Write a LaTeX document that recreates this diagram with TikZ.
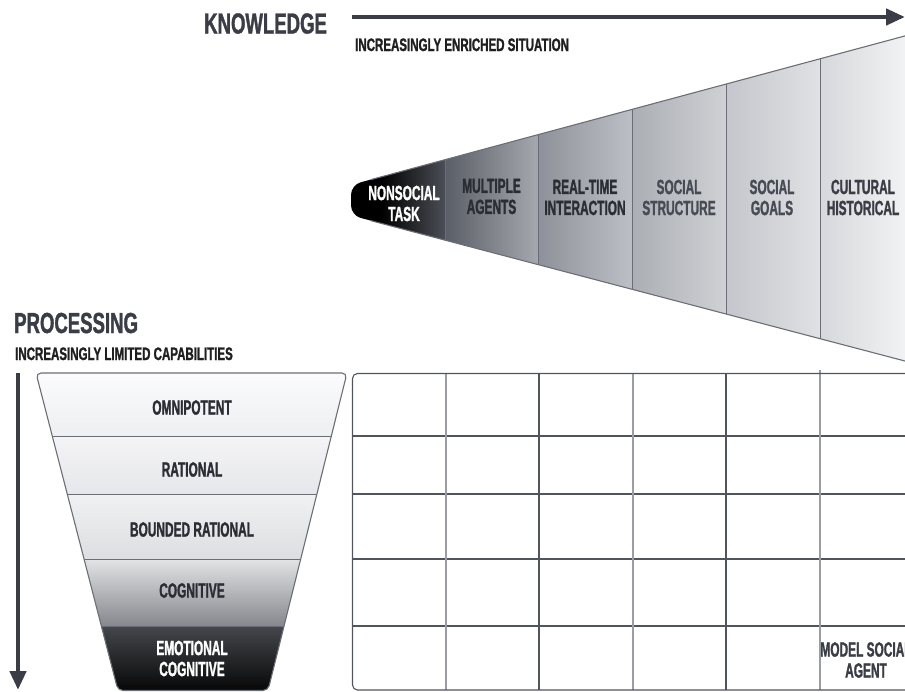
\documentclass[tikz,border=0pt]{standalone}
\usepackage{fontspec}
\newfontfamily\bebas{Liberation Sans}[FakeStretch=0.58, FakeBold=1.3]
\newfontfamily\bebast{Liberation Sans}[FakeStretch=0.64, FakeBold=1.3]
\usetikzlibrary{arrows.meta,calc}
\definecolor{ink}{HTML}{3A3D46}
\definecolor{edgec}{HTML}{6B6E76}
\definecolor{txt}{HTML}{2A2D34}
\definecolor{txtl}{HTML}{474B54}
\definecolor{gridd}{HTML}{50545C}
\definecolor{gridl}{HTML}{9A9DA3}
\definecolor{ca}{HTML}{4B4E56}
\definecolor{cb1}{HTML}{5A5E66}\definecolor{cb2}{HTML}{A5A8AE}
\definecolor{cc1}{HTML}{8E9199}\definecolor{cc2}{HTML}{BCBFC4}
\definecolor{cd1}{HTML}{ABAEB4}\definecolor{cd2}{HTML}{CFD1D4}
\definecolor{ce1}{HTML}{C4C6CB}\definecolor{ce2}{HTML}{E0E1E4}
\definecolor{cf1}{HTML}{D6D8DB}\definecolor{cf2}{HTML}{FAFAFB}
\definecolor{fa1}{HTML}{FBFBFC}\definecolor{fa2}{HTML}{EEEFF1}
\definecolor{fb1}{HTML}{F4F4F6}\definecolor{fb2}{HTML}{E6E7EA}
\definecolor{fc1}{HTML}{F0F1F2}\definecolor{fc2}{HTML}{DCDEE1}
\definecolor{fd1}{HTML}{E2E3E5}\definecolor{fd2}{HTML}{85878C}
\definecolor{fe1}{HTML}{45474C}\definecolor{fe2}{HTML}{060606}
\begin{document}
\begin{tikzpicture}[x=1pt,y=-1pt,
  lbl/.style={font=\bebas\bfseries\fontsize{20.5}{21}\selectfont, align=center, inner sep=0pt, text=txt},
  bigtitle/.style={font=\bebast\bfseries\fontsize{29}{31}\selectfont, inner sep=0pt, text=ink, anchor=base west},
  subtitle/.style={font=\bebast\bfseries\fontsize{18}{19}\selectfont, inner sep=0pt, text=black!88, anchor=base west},
  axisarrow/.style={draw=ink, line width=4.5pt, -{Triangle[length=19pt,width=16pt]}},
  outline/.style={draw=edgec, line width=1.1pt},
  gline/.style={draw=gridd, line width=1.1pt},
  glinel/.style={draw=gridl, line width=1.1pt}]
\useasboundingbox (0,0) rectangle (905,691);

% ---------- titles ----------
\node[bigtitle] (know) at (204,33.5) {KNOWLEDGE};
\node[subtitle] (enr) at (355,51) {INCREASINGLY ENRICHED SITUATION};
\node[bigtitle] (proc) at (14,333) {PROCESSING};
\node[subtitle] (lim) at (15,360) {INCREASINGLY LIMITED CAPABILITIES};

% ---------- axes ----------
\coordinate (ka) at (352,17);
\coordinate (kb) at (905,17);
\draw[axisarrow] (ka) -- (kb);
\coordinate (pa) at (18,373);
\coordinate (pb) at (18,690);
\draw[axisarrow] (pa) -- (pb);

% ---------- cone ----------
\def\conepath{(930,29.2) -- (351,184.9) -- (351,215.4) -- (930,367.6) -- cycle}
\begin{scope}
  \clip[rounded corners=10] \conepath;
  \fill[black] (340,0) rectangle (382,400);
  \shade[left color=black, right color=ca] (381,0) rectangle (445,400);
  \shade[left color=cb1, right color=cb2] (445,0) rectangle (538,400);
  \shade[left color=cc1, right color=cc2] (538,0) rectangle (632,400);
  \shade[left color=cd1, right color=cd2] (632,0) rectangle (726,400);
  \shade[left color=ce1, right color=ce2] (726,0) rectangle (820,400);
  \shade[left color=cf1, right color=cf2] (820,0) rectangle (930,400);
  \foreach \xx in {445,538,632,726,820}
    \draw[draw=edgec, line width=1pt] (\xx,0) -- (\xx,400);
\end{scope}
\draw[outline] (371,179.6) -- (930,29.2);
\draw[outline] (371,220.7) -- (930,367.6);

\node[lbl, text=white] (t1) at (404,203.5) {NONSOCIAL\\TASK};
\node[lbl] (t2) at (491.5,196.5) {MULTIPLE\\AGENTS};
\node[lbl] (t3) at (585,197.5) {REAL-TIME\\INTERACTION};
\node[lbl, text=txtl] (t4) at (679,197.5) {SOCIAL\\STRUCTURE};
\node[lbl, text=txtl] (t5) at (772,197.5) {SOCIAL\\GOALS};
\node[lbl, text=ink] (t6) at (863,197.5) {CULTURAL\\HISTORICAL};

% ---------- funnel ----------
\def\funnelpath{(36,373) -- (347,373) -- (268,690.5) -- (118,690.5) -- cycle}
\begin{scope}
  \clip[rounded corners=5] \funnelpath;
  \shade[top color=fa1, bottom color=fa2] (0,373) rectangle (360,436);
  \shade[top color=fb1, bottom color=fb2] (0,436) rectangle (360,494);
  \shade[top color=fc1, bottom color=fc2] (0,494) rectangle (360,559);
  \shade[top color=fd1, bottom color=fd2] (0,559) rectangle (360,626);
  \shade[top color=fe1, bottom color=fe2] (0,626) rectangle (360,692);
  \foreach \yy in {436,494,559,626}
    \draw[draw=edgec, line width=1pt] (0,\yy) -- (360,\yy);
\end{scope}
\draw[outline, rounded corners=5] \funnelpath;

\node[lbl] (f1) at (192,407.5) {OMNIPOTENT};
\node[lbl] (f2) at (192,469.5) {RATIONAL};
\node[lbl] (f3) at (192,529.5) {BOUNDED RATIONAL};
\node[lbl] (f4) at (192,590.5) {COGNITIVE};
\node[lbl, text=white] (f5) at (192,658.5) {EMOTIONAL\\COGNITIVE};

% ---------- grid ----------
\foreach \yy in {436,494,559,626}
  \draw[gline] (352,\yy) -- (910,\yy);
\draw[glinel] (446,373) -- (446,690);
\draw[gline] (539,373) -- (539,690);
\draw[glinel] (633,373) -- (633,690);
\draw[gline] (726,373) -- (726,690);
\draw[glinel] (820,370) -- (820,690);
\draw[gline, rounded corners=5] (915,373.5) -- (352.5,373.5) -- (352.5,690) -- (915,690);

\node[lbl, text=ink] (msa) at (866,660) {MODEL SOCIAL\\AGENT};
\end{tikzpicture}
\end{document}
